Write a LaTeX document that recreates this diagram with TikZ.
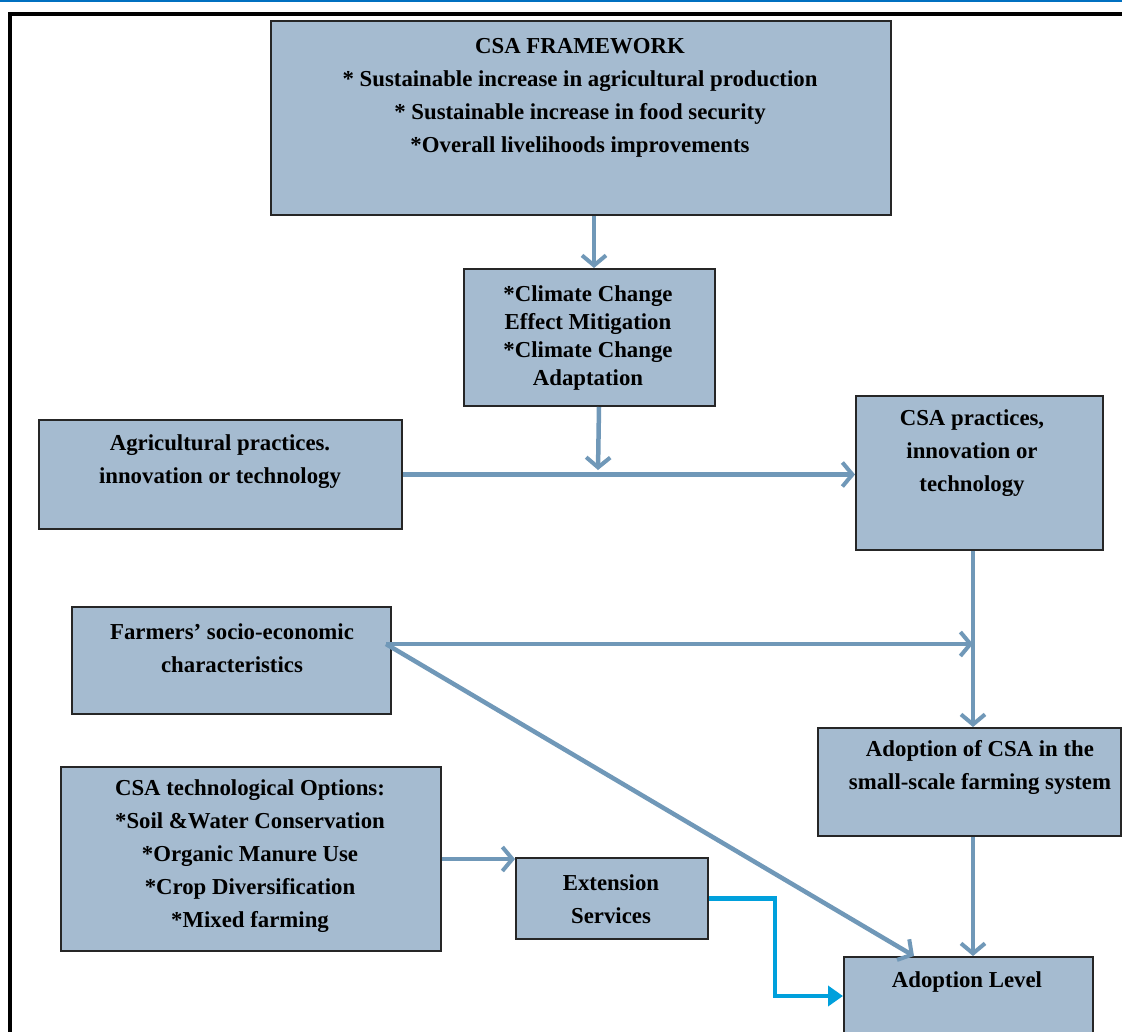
\documentclass[tikz,border=0pt]{standalone}
\usepackage{fontspec}
\setmainfont{Liberation Serif}
\usetikzlibrary{arrows.meta,calc}
\definecolor{boxfill}{HTML}{A5BBD0}
\definecolor{arrcol}{HTML}{7098B8}
\definecolor{brightblue}{HTML}{00A0DC}
\definecolor{topblue}{HTML}{0070C0}
\tikzset{
  box/.style={draw=black!85, line width=2pt, fill=boxfill, rectangle, inner sep=0pt, anchor=north west},
  txt/.style={align=center, inner sep=0pt, font=\bfseries\fontsize{22.8}{33}\selectfont},
  arr/.style={draw=arrcol, line width=4.5pt, -{Straight Barb[length=10pt,width=24pt,line width=4pt]}},
  barr/.style={draw=brightblue, line width=4.5pt, -{Triangle[length=15pt,width=20pt]}},
}
\begin{document}
\begin{tikzpicture}[x=1pt,y=-1pt]
\useasboundingbox (0,0) rectangle (1122,1031);
\fill[white] (0,0) rectangle (1122,1031);
\draw[topblue, line width=2.5pt] (0,1) -- (1122,1);
\draw[black, line width=3.5pt] (10,1040) -- (10,14) -- (1130,14);

\node[box, minimum width=620pt, minimum height=194pt] (fw) at (270,20) {};
\node[box, minimum width=251pt, minimum height=137pt] (cc) at (463,268) {};
\node[box, minimum width=363pt, minimum height=109pt] (ag) at (38,419) {};
\node[box, minimum width=247pt, minimum height=154pt] (csp) at (855,395) {};
\node[box, minimum width=319pt, minimum height=107pt] (fm) at (71,606) {};
\node[box, minimum width=303pt, minimum height=108pt] (ad) at (817,727) {};
\node[box, minimum width=380pt, minimum height=184pt] (opt) at (60,766) {};
\node[box, minimum width=192pt, minimum height=81pt] (ext) at (515,857) {};
\node[box, minimum width=249pt, minimum height=100pt] (lvl) at (843,956) {};

\node[txt] (fwt) at (580,98) {CSA FRAMEWORK\\* Sustainable increase in agricultural production\\* Sustainable increase in food security\\*Overall livelihoods improvements};
\node[txt, font=\bfseries\fontsize{22.8}{28}\selectfont] (cct) at (588,338) {*Climate Change\\Effect Mitigation\\*Climate Change\\Adaptation};
\node[txt] (agt) at (220,462) {Agricultural practices.\\innovation or technology};
\node[txt] (cspt) at (972,453) {CSA practices,\\innovation or\\technology};
\node[txt] (fmt) at (232,648) {Farmers' socio-economic\\characteristics};
\node[txt] (adt) at (980,767) {Adoption of CSA in the\\small-scale farming system};
\node[txt] (optt) at (250,856) {CSA technological Options:\\*Soil \&Water Conservation\\*Organic Manure Use\\*Crop Diversification\\*Mixed farming};
\node[txt] (extt) at (611,899) {Extension\\Services};
\node[txt] (lvlt) at (967,982) {Adoption Level};

\coordinate (colx) at (973,0);
\coordinate (j1) at (598,470);
\coordinate (fmr) at (386,644);
\coordinate (bx) at (775,996);

\draw[arr] ([xshift=13pt]fw.south) -- ([xshift=4.5pt]cc.north);
\draw[arr] ([xshift=9.5pt]cc.south) -- (j1);
\draw[arr] (ag.east) -- (ag.east -| csp.west);
\draw[arr] (csp.south -| colx) -- (ad.north -| colx);
\draw[arr] (fmr) -- (fmr -| colx);
\draw[arr] (fmr) -- ([xshift=-54.5pt]lvl.north);
\draw[arr] (ad.south -| colx) -- (lvl.north -| colx);
\draw[arr] (opt.east) -- (opt.east -| ext.west);
\draw[barr] (ext.east) -| (bx) -- (bx -| lvl.west);
\end{tikzpicture}
\end{document}
